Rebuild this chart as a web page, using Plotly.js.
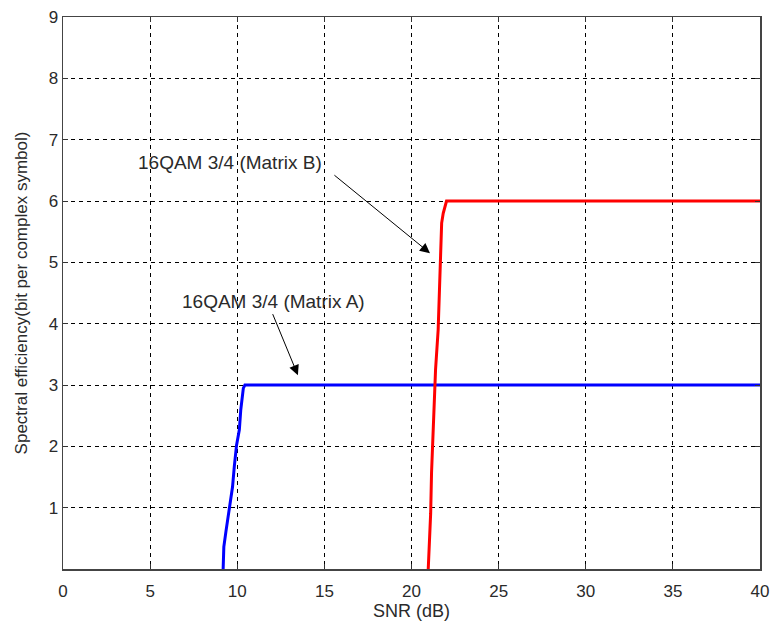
<!DOCTYPE html>
<html>
<head>
<meta charset="utf-8">
<script src="https://cdn.plot.ly/plotly-3.0.1.min.js"></script>
<style>html,body{margin:0;padding:0;background:#fff;}#chart{width:773px;height:624px;}</style>
</head>
<body>
<div id="chart"></div>
<script>
// SNR (dB) and spectral efficiency
const snrA = [9.19, 9.23, 9.35, 9.58, 9.73, 9.83, 9.96, 10.12, 10.2, 10.35, 10.44, 40];
const effA = [0, 0.36, 0.61, 1.02, 1.34, 1.67, 2.02, 2.27, 2.59, 2.95, 3.0, 3.0];
const snrB = [20.96, 21.01, 21.1, 21.15, 21.25, 21.38, 21.53, 21.63, 21.73, 21.82, 22.01, 40];
const effB = [0, 0.3, 0.91, 1.57, 2.3, 3.25, 3.9, 5.0, 5.64, 5.8, 6.0, 6.0];
const xTicks = [0, 5, 10, 15, 20, 25, 30, 35, 40];
const yTicks = [1, 2, 3, 4, 5, 6, 7, 8, 9];
const labelA = "16QAM 3/4 (Matrix A)";
const labelB = "16QAM 3/4 (Matrix B)";

const fontFam = "Liberation Sans, Arial, sans-serif";
const txtCol = '#2a2a2a';
const traces = [
  {x: snrA, y: effA, mode: 'lines', line: {color: '#0000ff', width: 3}, showlegend: false},
  {x: snrB, y: effB, mode: 'lines', line: {color: '#ff0000', width: 3}, showlegend: false}
];
const axCommon = {
  showgrid: true, gridcolor: '#000', gridwidth: 1, griddash: '4px,4px',
  zeroline: false, showline: true, linecolor: '#444', linewidth: 1.5,
  mirror: 'ticks', ticks: 'inside', ticklen: 5, tickcolor: '#333', tickwidth: 1,
  tickfont: {family: fontFam, size: 17, color: txtCol}
};
const layout = {
  width: 773, height: 624,
  margin: {l: 63, r: 13, t: 17, b: 55},
  paper_bgcolor: '#fff', plot_bgcolor: '#fff',
  font: {family: fontFam, color: txtCol},
  xaxis: Object.assign({}, axCommon, {
    range: [0, 40], tickvals: xTicks, ticktext: xTicks.map(String),
    ticklabelstandoff: 6,
    title: {text: 'SNR (dB)', font: {family: fontFam, size: 18, color: txtCol}, standoff: 0}
  }),
  yaxis: Object.assign({}, axCommon, {
    range: [0, 9], tickvals: yTicks, ticktext: yTicks.map(String),
    title: {text: 'Spectral efficiency(bit per complex symbol)', font: {family: fontFam, size: 17, color: txtCol}, standoff: 16}
  }),
  annotations: [
    {x: 9.58, y: 6.62, xref: 'x', yref: 'y', text: labelB, showarrow: false,
     font: {family: fontFam, size: 19, color: txtCol}},
    {x: 12.08, y: 4.36, xref: 'x', yref: 'y', text: labelA, showarrow: false,
     font: {family: fontFam, size: 19, color: txtCol}},
    {x: 21.06, y: 5.15, ax: 15.49, ay: 6.44, xref: 'x', yref: 'y', axref: 'x', ayref: 'y',
     text: '', showarrow: true, arrowhead: 2, arrowsize: 2, arrowwidth: 1, arrowcolor: '#000'},
    {x: 13.48, y: 3.16, ax: 12.0, ay: 4.18, xref: 'x', yref: 'y', axref: 'x', ayref: 'y',
     text: '', showarrow: true, arrowhead: 2, arrowsize: 2, arrowwidth: 1, arrowcolor: '#000'}
  ]
};
Plotly.newPlot('chart', traces, layout, {displayModeBar: false, staticPlot: true});
</script>
</body>
</html>
